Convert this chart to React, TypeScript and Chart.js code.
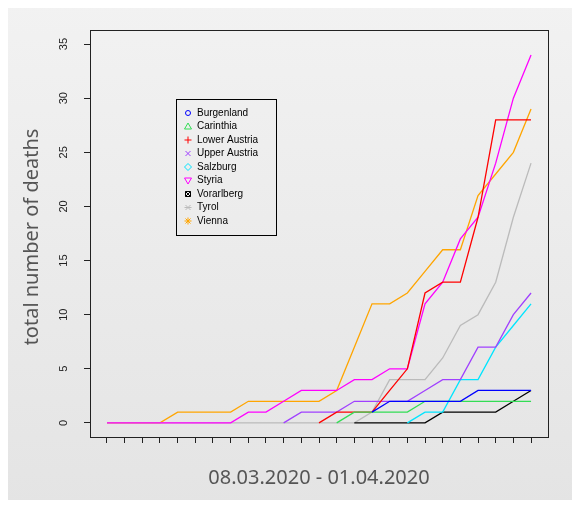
import { useEffect, useRef } from 'react';
import { Chart, registerables } from 'chart.js';

Chart.register(...registerables);

const days = Array.from({ length: 25 }, (_, i) => i); // 08.03.2020 .. 01.04.2020
const N = null;

const burgenland = [N, N, N, N, N, N, N, N, N, N, N, N, N, N, N, 1, 2, 2, 2, 2, 2, 3, 3, 3, 3];
const carinthia = [N, N, N, N, N, N, N, N, N, N, N, N, N, 0, 1, 1, 1, 1, 2, 2, 2, 2, 2, 2, 2];
const lowerAustria = [N, N, N, N, N, N, N, N, N, N, N, N, 0, 1, 1, 1, 3, 5, 12, 13, 13, 19, 28, 28, 28];
const upperAustria = [N, N, N, N, N, N, N, N, N, N, 0, 1, 1, 1, 2, 2, 2, 2, 3, 4, 4, 7, 7, 10, 12];
const salzburg = [N, N, N, N, N, N, N, N, N, N, N, N, N, N, N, N, N, 0, 1, 1, 4, 4, 7, 9, 11];
const styria = [0, 0, 0, 0, 0, 0, 0, 0, 1, 1, 2, 3, 3, 3, 4, 4, 5, 5, 11, 13, 17, 19, 24, 30, 34];
const vorarlberg = [N, N, N, N, N, N, N, N, N, N, N, N, N, N, 0, 0, 0, 0, 0, 1, 1, 1, 1, 2, 3];
const tyrol = [0, 0, 0, 0, 0, 0, 0, 0, 0, 0, 0, 0, 0, 0, 0, 1, 4, 4, 4, 6, 9, 10, 13, 19, 24];
const vienna = [0, 0, 0, 0, 1, 1, 1, 1, 2, 2, 2, 2, 2, 3, 7, 11, 11, 12, 14, 16, 16, 21, 23, 25, 29];

const yTicks = [0, 5, 10, 15, 20, 25, 30, 35];

const series = [
  { label: 'Burgenland', data: burgenland, color: '#0000ff', sym: 'circle' },
  { label: 'Carinthia', data: carinthia, color: '#33dd55', sym: 'tri' },
  { label: 'Lower Austria', data: lowerAustria, color: '#ff0000', sym: 'plus' },
  { label: 'Upper Austria', data: upperAustria, color: '#a040ff', sym: 'x' },
  { label: 'Salzburg', data: salzburg, color: '#00e5ff', sym: 'diamond' },
  { label: 'Styria', data: styria, color: '#ff00ff', sym: 'vtri' },
  { label: 'Vorarlberg', data: vorarlberg, color: '#000000', sym: 'boxx' },
  { label: 'Tyrol', data: tyrol, color: '#bbbbbb', sym: 'star' },
  { label: 'Vienna', data: vienna, color: '#ffa500', sym: 'starp' },
];

function symbol(ctx: CanvasRenderingContext2D, kind: string, x: number, y: number, c: string) {
  const r = 2.5;
  ctx.save();
  ctx.strokeStyle = c;
  ctx.lineWidth = 1;
  ctx.beginPath();
  if (kind === 'circle') ctx.arc(x, y, r, 0, Math.PI * 2);
  else if (kind === 'tri') { ctx.moveTo(x, y - r - 1); ctx.lineTo(x + r + 1, y + r); ctx.lineTo(x - r - 1, y + r); ctx.closePath(); }
  else if (kind === 'vtri') { ctx.moveTo(x, y + r + 1); ctx.lineTo(x + r + 1, y - r); ctx.lineTo(x - r - 1, y - r); ctx.closePath(); }
  else if (kind === 'plus') { ctx.moveTo(x - r - 1, y); ctx.lineTo(x + r + 1, y); ctx.moveTo(x, y - r - 1); ctx.lineTo(x, y + r + 1); }
  else if (kind === 'x') { ctx.moveTo(x - r, y - r); ctx.lineTo(x + r, y + r); ctx.moveTo(x + r, y - r); ctx.lineTo(x - r, y + r); }
  else if (kind === 'diamond') { ctx.moveTo(x, y - r - 1); ctx.lineTo(x + r + 1, y); ctx.lineTo(x, y + r + 1); ctx.lineTo(x - r - 1, y); ctx.closePath(); }
  else if (kind === 'boxx') { ctx.rect(x - r, y - r, 2 * r, 2 * r); ctx.moveTo(x - r, y - r); ctx.lineTo(x + r, y + r); ctx.moveTo(x + r, y - r); ctx.lineTo(x - r, y + r); }
  else { ctx.moveTo(x - r, y - r); ctx.lineTo(x + r, y + r); ctx.moveTo(x + r, y - r); ctx.lineTo(x - r, y + r); ctx.moveTo(x - r - 1, y); ctx.lineTo(x + r + 1, y); if (kind === 'starp') { ctx.moveTo(x, y - r - 1); ctx.lineTo(x, y + r + 1); } }
  ctx.stroke();
  ctx.restore();
}

const decor = {
  id: 'decor',
  beforeDraw(chart: any) {
    const { ctx, width, height } = chart;
    const g = ctx.createLinearGradient(0, 0, 0, height);
    g.addColorStop(0, '#f2f2f2');
    g.addColorStop(1, '#e4e4e4');
    ctx.save();
    ctx.fillStyle = g;
    ctx.fillRect(0, 0, width, height);
    ctx.restore();
  },
  afterDraw(chart: any) {
    const { ctx, chartArea: a, scales } = chart;
    ctx.save();
    ctx.strokeStyle = '#222';
    ctx.lineWidth = 1;
    ctx.strokeRect(a.left + 0.5, a.top + 0.5, a.right - a.left, a.bottom - a.top);

    // y tick labels, rotated to read upward
    ctx.fillStyle = '#222';
    ctx.font = '11px "Liberation Sans", Arial, sans-serif';
    ctx.textAlign = 'center';
    ctx.textBaseline = 'middle';
    yTicks.forEach((v) => {
      const y = scales.y.getPixelForValue(v);
      ctx.save();
      ctx.translate(64, y);
      ctx.rotate(-Math.PI / 2);
      ctx.fillText(String(v), 0, 0);
      ctx.restore();
    });

    ctx.fillStyle = '#555';
    ctx.font = '20px "Noto Sans", sans-serif';
    ctx.fillText('08.03.2020 - 01.04.2020', 319, 478);
    ctx.translate(32, 237);
    ctx.rotate(-Math.PI / 2);
    ctx.fillText('total number of deaths', 0, 0);
    ctx.restore();

    // legend box
    ctx.save();
    ctx.strokeStyle = '#000';
    ctx.strokeRect(176.5, 99.5, 100, 136);
    ctx.font = '10px "Liberation Sans", Arial, sans-serif';
    ctx.textAlign = 'left';
    ctx.textBaseline = 'middle';
    ctx.fillStyle = '#000';
    series.forEach((s, i) => {
      const y = 113 + i * 13.5;
      symbol(ctx, s.sym, 188, y, s.color);
      ctx.fillText(s.label, 197, y);
    });
    ctx.restore();
  },
};

const App: React.FC = () => {
  const canvasRef = useRef<HTMLCanvasElement>(null);

  useEffect(() => {
    if (!canvasRef.current) return;
    const chart = new Chart(canvasRef.current, {
      type: 'line',
      data: {
        labels: days,
        datasets: series.map((s) => ({
          label: s.label,
          data: s.data.map((v, i) => ({ x: days[i], y: v })),
          borderColor: s.color,
          borderWidth: 1.3,
          pointRadius: 0,
          tension: 0,
          fill: false,
        })),
      },
      options: {
        responsive: false,
        animation: false,
        layout: { padding: { left: 0, right: 32, top: 30, bottom: 0 } },
        plugins: { legend: { display: false }, tooltip: { enabled: false } },
        scales: {
          x: {
            type: 'linear',
            min: -0.96,
            max: 24.96,
            afterBuildTicks: (s: any) => { s.ticks = days.map((v) => ({ value: v })); },
            afterFit: (s: any) => { s.height = 71; },
            ticks: { display: false },
            grid: { drawOnChartArea: false, tickLength: 6, color: '#222' },
            border: { display: false },
          },
          y: {
            min: -1.3,
            max: 36.3,
            afterBuildTicks: (s: any) => { s.ticks = yTicks.map((v) => ({ value: v })); },
            afterFit: (s: any) => { s.width = 90; },
            ticks: { display: false },
            grid: { drawOnChartArea: false, tickLength: 6, color: '#222' },
            border: { display: false },
          },
        },
      },
      plugins: [decor],
    });
    return () => chart.destroy();
  }, []);

  return (
    <div style={{ margin: -8 }}>
      <canvas ref={canvasRef} width={580} height={508} style={{ display: 'block' }} />
    </div>
  );
};

export default App;
